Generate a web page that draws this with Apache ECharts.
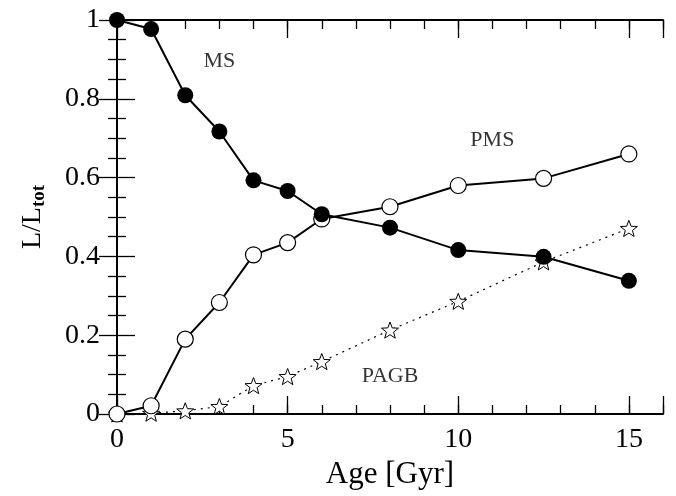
<!DOCTYPE html>
<html><head><meta charset="utf-8">
<script src="https://cdn.jsdelivr.net/npm/echarts@6/dist/echarts.min.js"></script>
<style>html,body{margin:0;padding:0;background:#fff}#c{width:676px;height:496px}</style>
</head><body><div id="c"></div>
<script>
// Data
const ages = [0, 1, 2, 3, 4, 5, 6, 8, 10, 12.5, 15];
const ms   = [1.000, 0.977, 0.809, 0.717, 0.593, 0.566, 0.507, 0.473, 0.416, 0.399, 0.338];
const pms  = [0.000, 0.021, 0.190, 0.283, 0.404, 0.435, 0.495, 0.526, 0.580, 0.598, 0.660];
const pagb = [0.000, 0.002, 0.008, 0.019, 0.072, 0.095, 0.133, 0.213, 0.286, 0.386, 0.471];
const xTickLabels = [0, 5, 10, 15];
const yTickLabels = [0, 0.2, 0.4, 0.6, 0.8, 1];
const annotations = [
  { name: 'MS',   age: 3.0,  value: 0.896 },
  { name: 'PMS',  age: 11.0, value: 0.695 },
  { name: 'PAGB', age: 8.0,  value: 0.096 }
];

const FONT = 'Liberation Serif';
const BLACK = '#000';
const STAR = 'path://M50 0 L62.34 33.01 L97.55 34.55 L69.97 56.49 L79.39 90.45 L50 71 L20.61 90.45 L30.03 56.49 L2.45 34.55 L37.66 33.01 Z';

const pairs = arr => ages.map((a, i) => [a, arr[i]]);

function xAxisDef(position, major) {
  return {
    type: 'value', min: 0, max: 16, interval: major ? 5 : 1, position: position,
    axisLine: { show: major, lineStyle: { color: BLACK, width: 2 } },
    axisTick: { show: true, inside: true, length: major ? 18 : 9, lineStyle: { color: BLACK, width: 1.3 } },
    axisLabel: {
      show: major && position === 'bottom', margin: 12,
      fontFamily: FONT, fontSize: 28, color: BLACK,
      formatter: v => (xTickLabels.indexOf(v) >= 0 ? String(v) : '')
    },
    splitLine: { show: false }
  };
}
function yAxisDef(position) {
  const d = {
    type: 'value', min: 0, max: 1, interval: 0.2, position: position,
    axisLine: { show: true, lineStyle: { color: BLACK, width: 2 } },
    axisTick: { show: true, inside: true, length: 18, lineStyle: { color: BLACK, width: 1.3 } },
    minorTick: { show: true, splitNumber: 4, length: 9, lineStyle: { color: BLACK, width: 1.3 } },
    axisLabel: {
      show: position === 'left', margin: 17,
      fontFamily: FONT, fontSize: 28, color: BLACK,
      formatter: v => {
        const hit = yTickLabels.find(t => Math.abs(t - v) < 1e-9);
        return hit === undefined ? '' : String(hit);
      }
    },
    splitLine: { show: false }
  };
  if (position === 'left') {
    d.name = '{a|L/L}{b|tot}';
    d.nameLocation = 'middle';
    d.nameRotate = 90;
    d.nameGap = 68;
    d.nameTextStyle = {
      fontFamily: FONT, fontWeight: 'normal', color: BLACK,
      rich: {
        a: { fontFamily: FONT, fontSize: 28, fontWeight: 'normal', color: BLACK },
        b: { fontFamily: FONT, fontSize: 19, fontWeight: 'bold', color: BLACK, padding: [14, 0, 0, 0] }
      }
    };
  }
  return d;
}

const chart = echarts.init(document.getElementById('c'), null, { renderer: 'canvas' });
chart.setOption({
  backgroundColor: '#fff',
  animation: false,
  grid: { left: 117, right: 13, top: 20, bottom: 82, containLabel: false },
  xAxis: [
    Object.assign(xAxisDef('bottom', true), {
      name: 'Age [Gyr]', nameLocation: 'middle', nameGap: 44,
      nameTextStyle: { fontFamily: FONT, fontSize: 31, fontWeight: 'normal', color: BLACK }
    }),
    xAxisDef('bottom', false),
    xAxisDef('top', true),
    xAxisDef('top', false)
  ],
  yAxis: [yAxisDef('left'), yAxisDef('right')],
  series: [
    {
      type: 'line', name: 'PAGB', data: pairs(pagb), clip: false,
      symbol: STAR, symbolSize: 17, symbolKeepAspect: true,
      lineStyle: { color: BLACK, width: 1.2, type: [2, 5] },
      itemStyle: { color: '#fff', borderColor: BLACK, borderWidth: 1 },
      z: 2
    },
    {
      type: 'line', name: 'PMS', data: pairs(pms), clip: false,
      symbol: 'circle', symbolSize: 16,
      lineStyle: { color: BLACK, width: 2 },
      itemStyle: { color: '#fff', borderColor: BLACK, borderWidth: 1.2 },
      z: 3
    },
    {
      type: 'line', name: 'MS', data: pairs(ms), clip: false,
      symbol: 'circle', symbolSize: 16,
      lineStyle: { color: BLACK, width: 2 },
      itemStyle: { color: BLACK, borderColor: BLACK, borderWidth: 0 },
      z: 4
    },
    {
      type: 'scatter', name: 'labels', symbolSize: 0, silent: true,
      data: annotations.map(a => ({ value: [a.age, a.value], name: a.name })),
      label: {
        show: true, position: 'inside', formatter: p => p.name,
        fontFamily: FONT, fontSize: 22, color: BLACK
      },
      z: 5
    }
  ]
});
</script>
</body></html>
